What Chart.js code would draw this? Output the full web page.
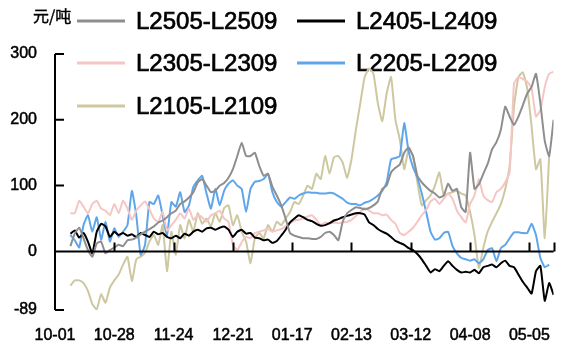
<!DOCTYPE html>
<html>
<head>
<meta charset="utf-8">
<script src="https://cdn.jsdelivr.net/npm/chart.js@4.4.0/dist/chart.umd.min.js"></script>
<style>
  html, body { margin: 0; padding: 0; background: #fff; }
  #wrap { width: 566px; height: 349px; }
</style>
</head>
<body>
<div id="wrap"><canvas id="spreadChart" width="566" height="349"></canvas></div>
<script>
// tick labels on the x axis (day offset from 10-01)
var tickDays = [0, 27, 54, 81, 108, 135, 162, 189, 216];
var tickLabels = ['10-01', '10-28', '11-24', '12-21', '01-17', '02-13', '03-12', '04-08', '05-05'];
var yTicks = [-89, 0, 100, 200, 300];
var lastDay = 227;   // 05-16

// values read every 2 days, first point on 10-08 (day 7)
var L2505 = [8, 27, 36, 20, 2, -8, 12, 15, -3, 2, 6, 10, 8, 17, 18, 21, 26, 30, 34, 38,
  44, 47, 52, 58, 62, 72, 76, 82, 90, 105, 110, 100, 90, 92, 100, 104, 112, 125, 145, 165,
  145, 145, 150, 130, 115, 118, 98, 85, 70, 50, 28, 24, 22, 20, 20, 19, 19, 22, 28, 30,
  25, 17, 45, 58, 63, 67, 66, 64, 66, 70, 76, 95, 100, 120, 127, 132, 150, 158, 145, 115,
  105, 98, 92, 88, 82, 85, 103, 92, 95, 67, 60, 150, 95, 102, 118, 133, 155, 166, 185, 220,
  205, 192, 205, 222, 240, 250, 270, 225, 168, 145, 200];
var L2405 = [27, 32, 21, 28, 15, -3, 30, 42, 38, 22, 30, 25, 28, 24, 26, 22, 28, 25, 22, 30,
  26, 28, 22, 20, 24, 20, 27, 24, 30, 33, 30, 35, 36, 33, 36, 38, 33, 22, 30, 33,
  27, 28, 21, 20, 17, 18, 13, 16, 24, 33, 44, 50, 55, 52, 48, 46, 42, 39, 40, 43,
  47, 49, 52, 54, 56, 58, 58, 56, 44, 40, 34, 30, 27, 22, 16, 13, 10, 5, 2, -4,
  -12, -22, -32, -27, -30, -22, -15, -22, -28, -32, -31, -32, -28, -33, -24, -22, -20, -24, -18, -14,
  -22, -24, -35, -46, -55, -64, -30, -22, -75, -48, -66];
var L2305 = [58, 58, 77, 68, 58, 72, 77, 65, 62, 55, 72, 58, 77, 65, 48, 62, 70, 76, 64, 50,
  45, 60, 32, 40, 48, 58, 50, 65, 48, 55, 52, 45, 55, 58, 62, 50, 45, 10, 2, 14,
  22, 20, 28, 30, 32, 34, 30, 32, 34, 38, 43, 47, 48, 50, 53, 55, 48, 40, 44, 42,
  44, 43, 44, 45, 48, 54, 60, 66, 62, 58, 58, 55, 56, 48, 42, 28, 25, 30, 36, 45,
  55, 63, 76, 80, 72, 80, 88, 80, 62, 52, 44, 72, 85, 110, 85, 78, 75, 90, 95, 105,
  120, 255, 265, 262, 258, 248, 205, 215, 250, 270, 273];
var L2205 = [25, 17, 6, 40, 55, 30, 52, 18, 45, 15, 35, 22, 30, 40, 92, 55, -5, 10, 75, 72,
  85, 55, 25, 75, 68, 90, 60, 70, 98, 108, 115, 88, 65, 95, 70, 92, 103, 108, 100, 95,
  60, 95, 106, 107, 110, 118, 90, 75, 68, 75, 82, 80, 85, 88, 90, 89, 89, 88, 88, 89,
  88, 84, 80, 74, 72, 72, 70, 74, 76, 80, 85, 92, 105, 140, 142, 145, 195, 152, 128, 112,
  88, 60, 30, 18, 20, 28, 30, 8, -3, -10, -12, -14, -12, -18, -12, 2, 5, -15, 5, 10,
  20, 29, 29, 28, 28, 42, 25, -10, -24, -20, null];
var L2105 = [-52, -44, -44, -48, -60, -80, -88, -65, -78, -55, -44, -35, -20, -8, -45, -12, -8, -2, 15, 25,
  10, 40, -30, 30, -5, 40, 20, 48, 30, 58, 42, 50, 38, 58, 45, 66, 70, 40, 55, 30,
  15, -18, 20, 28, 20, 40, 30, 45, 40, 50, 60, 75, 72, 85, 100, 95, 118, 110, 145, 118,
  143, 145, 135, 112, 140, 185, 225, 265, 278, 270, 225, 198, 240, 265, 200, 170, 125, 155, 145, 105,
  70, 78, 85, 100, 120, 85, 88, 90, 92, 88, 85, 60, 25, -25, 5, 30, 45, 58, 72, 95,
  130, 220, 265, 272, 248, 190, 125, 140, 20, 145, null];

var seriesNames = ['L2505-L2509', 'L2405-L2409', 'L2305-L2309', 'L2205-L2209', 'L2105-L2109'];
var seriesValues = [L2505, L2405, L2305, L2205, L2105];
var seriesColors = ['#8e8e8e', '#000000', '#f6c5c5', '#5ea6ec', '#cdc8a0'];

var fontFamily = "'Liberation Sans', Arial, sans-serif";

function toPoints(values) {
  var pts = [];
  for (var i = 0; i < values.length; i++) {
    pts.push({ x: 7 + 2 * i, y: values[i] });
  }
  return pts;
}

var datasets = [];
for (var s = 0; s < seriesNames.length; s++) {
  datasets.push({
    label: seriesNames[s],
    data: toPoints(seriesValues[s]),
    borderColor: seriesColors[s],
    backgroundColor: seriesColors[s],
    borderWidth: 2,
    pointRadius: 0,
    tension: 0.15,
    spanGaps: false
  });
}

// axis lines and inward tick marks, like the original
var axisPlugin = {
  id: 'axisPlugin',
  afterDatasetsDraw: function (chart) {
    var ctx = chart.ctx;
    var x = chart.scales.x, y = chart.scales.y;
    var left = x.getPixelForValue(0), right = x.getPixelForValue(lastDay);
    var zero = y.getPixelForValue(0);
    ctx.save();
    ctx.strokeStyle = '#000';
    ctx.lineWidth = 2;
    ctx.beginPath();
    ctx.moveTo(left, y.getPixelForValue(300));
    ctx.lineTo(left, y.getPixelForValue(-89));
    for (var i = 0; i < yTicks.length; i++) {
      var py = y.getPixelForValue(yTicks[i]);
      ctx.moveTo(left, py);
      ctx.lineTo(left + 9, py);
    }
    ctx.moveTo(left, zero);
    ctx.lineTo(right, zero);
    var marks = tickDays.concat([lastDay]);
    for (var j = 1; j < marks.length; j++) {
      var px = Math.round(x.getPixelForValue(marks[j])) + 0.5;
      ctx.moveTo(px, zero);
      ctx.lineTo(px, zero - 9);
    }
    ctx.stroke();
    ctx.restore();
  }
};

// legend in two columns, three rows, plus the unit label
var legendPlugin = {
  id: 'legendPlugin',
  beforeDatasetsDraw: function (chart) {
    var ctx = chart.ctx;
    var colX = [77, 297];
    var rowY = [21, 63, 106];
    ctx.save();
    ctx.font = '24px ' + fontFamily;
    ctx.textBaseline = 'middle';
    ctx.textAlign = 'left';
    for (var i = 0; i < seriesNames.length; i++) {
      var cx = colX[i % 2], cy = rowY[Math.floor(i / 2)];
      ctx.strokeStyle = seriesColors[i];
      ctx.lineWidth = 3;
      ctx.beginPath();
      ctx.moveTo(cx, cy);
      ctx.lineTo(cx + 48, cy);
      ctx.stroke();
      ctx.fillStyle = '#000';
      ctx.strokeStyle = '#000';
      ctx.lineWidth = 0.7;
      ctx.fillText(seriesNames[i], cx + 59, cy + 1);
      ctx.strokeText(seriesNames[i], cx + 59, cy + 1);
    }
    ctx.font = "16px 'Noto Sans CJK SC', sans-serif";
    ctx.lineWidth = 0.4;
    ctx.fillText('元/吨', 33, 16);
    ctx.strokeText('元/吨', 33, 16);
    ctx.restore();
  }
};

new Chart(document.getElementById('spreadChart'), {
  type: 'line',
  data: { datasets: datasets },
  options: {
    responsive: false,
    animation: false,
    devicePixelRatio: 1,
    layout: { padding: { top: 54, right: 3, left: 0, bottom: 0 } },
    plugins: { legend: { display: false }, tooltip: { enabled: false } },
    scales: {
      x: {
        type: 'linear',
        min: 0,
        max: lastDay,
        afterBuildTicks: function (scale) {
          scale.ticks = tickDays.map(function (d) { return { value: d }; });
        },
        afterFit: function (scale) { scale.height = 39; },
        grid: { display: false, drawTicks: false },
        border: { display: false },
        ticks: {
          autoSkip: false,
          maxRotation: 0,
          padding: 16,
          color: '#000',
          textStrokeColor: '#000',
          textStrokeWidth: 0.5,
          font: { size: 16, family: fontFamily },
          callback: function (value) {
            var k = tickDays.indexOf(value);
            return k >= 0 ? tickLabels[k] : '';
          }
        }
      },
      y: {
        min: -89,
        max: 300,
        afterBuildTicks: function (scale) {
          scale.ticks = yTicks.map(function (v) { return { value: v }; });
        },
        afterFit: function (scale) { scale.width = 55; },
        grid: { display: false, drawTicks: false },
        border: { display: false },
        ticks: {
          padding: 18,
          color: '#000',
          textStrokeColor: '#000',
          textStrokeWidth: 0.5,
          font: { size: 16, family: fontFamily }
        }
      }
    }
  },
  plugins: [axisPlugin, legendPlugin]
});
</script>
</body>
</html>
